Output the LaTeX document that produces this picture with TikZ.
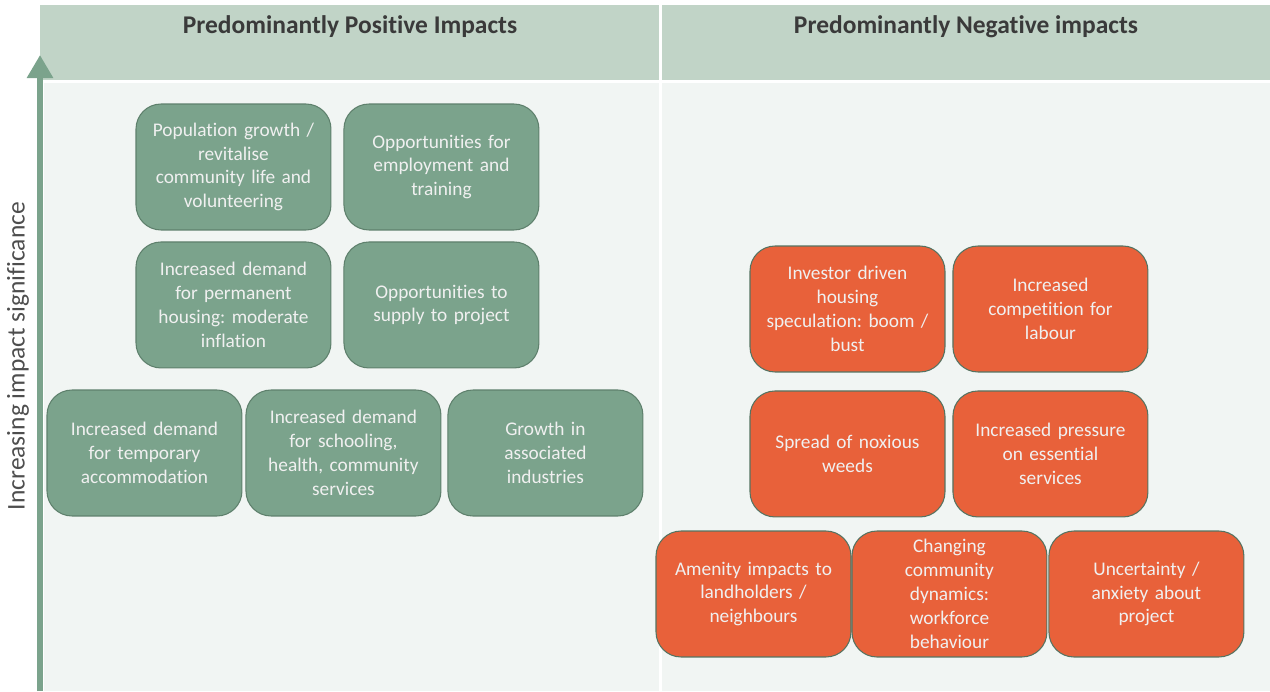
\documentclass[tikz,border=0pt]{standalone}
\usepackage{fontspec}
\setmainfont{Carlito}[Ligatures={NoCommon, NoRare}]
\frenchspacing
\definecolor{HeaderGreen}{RGB}{193, 212, 199}
\definecolor{PanelGrey}{RGB}{241, 245, 243}
\definecolor{BoxGreen}{RGB}{123, 163, 140}
\definecolor{BoxGreenEdge}{RGB}{94, 128, 108}
\definecolor{BoxOrange}{RGB}{232, 97, 58}
\definecolor{TextGrey}{RGB}{58, 58, 58}
\usepackage{tikz}
\usetikzlibrary{arrows.meta, positioning}

\begin{document}
\begin{tikzpicture}[x=0.02cm, y=-0.02cm]
        \tikzstyle{impact} = [rectangle, rounded corners=0.5cm, minimum width=3.9cm, minimum height=2.52cm, text width=3.5cm, align=center, outer sep=0pt, line width=0.6pt, text=white!94!black, font=\fontsize{11}{13.6}\selectfont]
        \tikzstyle{positive} = [impact, draw=BoxGreenEdge, fill=BoxGreen]
        \tikzstyle{negative} = [impact, draw=BoxGreenEdge!90!black, fill=BoxOrange]
        \tikzstyle{heading} = [font=\fontsize{14.5}{17}\selectfont\bfseries, text=TextGrey]

        \useasboundingbox (0,0) rectangle (1270,691);

        % Background panels
        \fill[HeaderGreen] (40,5) rectangle (659,80);
        \fill[HeaderGreen] (662,5) rectangle (1270,80);
        \fill[PanelGrey] (44,83) rectangle (659,691);
        \fill[PanelGrey] (662,83) rectangle (1270,691);

        % Headings
        \node (poshead) [heading] at (350,27) {Predominantly Positive Impacts};
        \node (neghead) [heading] at (966,27) {Predominantly Negative impacts};

        % Axis
        \coordinate (axisbase) at (40,691);
        \coordinate (axistop) at (40,55);
        \draw[BoxGreen, line width=0.12cm, -{Triangle[width=0.5cm, length=0.46cm]}] (axisbase) -- (axistop);
        \node (axislabel) [rotate=90, font=\fontsize{14.5}{17}\selectfont, text=TextGrey!90!white] at (18,356) {Increasing impact significance};

        % Positive impacts
        \node (popgrowth) [positive, anchor=north west] at (136,104) {Population growth /\\ revitalise\\ community life and\\ volunteering};
        \node (employment) [positive, right=0.26cm of popgrowth] {Opportunities for\\ employment and\\ training};
        \node (permhousing) [positive, below=0.24cm of popgrowth] {Increased demand\\ for permanent\\ housing: moderate\\ inflation};
        \node (supply) [positive, right=0.26cm of permhousing] {Opportunities to\\ supply to project};
        \node (temphousing) [positive, anchor=north west] at (47,390) {Increased demand\\ for temporary\\ accommodation};
        \node (services) [positive, right=0.08cm of temphousing] {Increased demand\\ for schooling,\\ health, community\\ services};
        \node (industries) [positive, right=0.14cm of services] {Growth in\\ associated\\ industries};

        % Negative impacts
        \node (speculation) [negative, anchor=north west] at (750,246) {Investor driven\\ housing\\ speculation: boom /\\ bust};
        \node (labour) [negative, right=0.16cm of speculation] {Increased\\ competition for\\ labour};
        \node (weeds) [negative, below=0.38cm of speculation] {Spread of noxious\\ weeds};
        \node (pressure) [negative, right=0.16cm of weeds] {Increased pressure\\ on essential\\ services};
        \node (amenity) [negative, anchor=north west] at (656,531) {Amenity impacts to\\ landholders /\\ neighbours};
        \node (dynamics) [negative, right=0.02cm of amenity] {Changing\\ community\\ dynamics:\\ workforce\\ behaviour};
        \node (uncertainty) [negative, right=0.04cm of dynamics] {Uncertainty /\\ anxiety about\\ project};
    \end{tikzpicture}
\end{document}
